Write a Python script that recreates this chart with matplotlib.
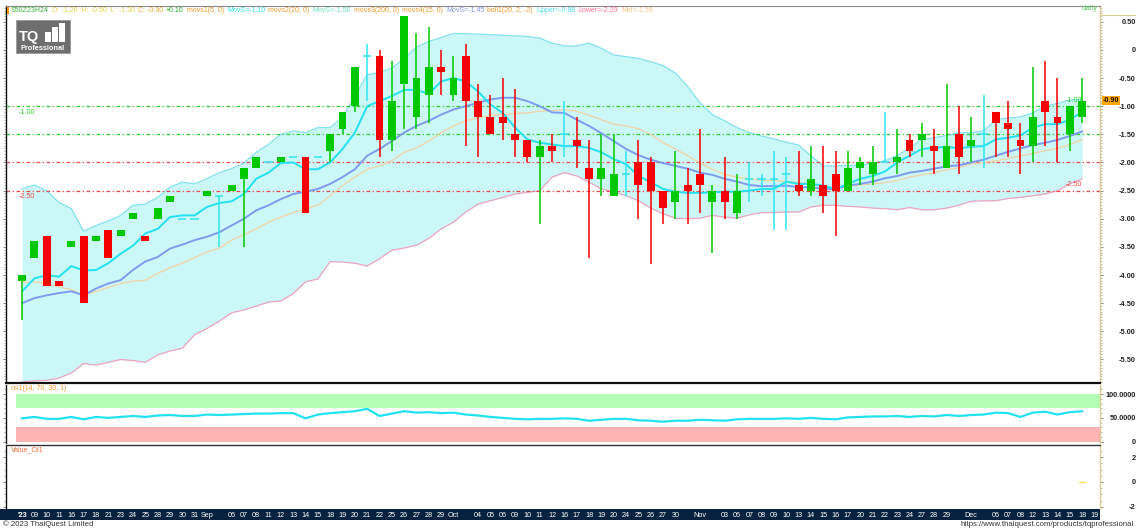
import matplotlib
matplotlib.use("Agg")
import matplotlib.pyplot as plt
import numpy as np
from matplotlib.patches import Rectangle
from matplotlib.lines import Line2D
from matplotlib.ticker import MultipleLocator
from matplotlib.transforms import blended_transform_factory

plt.rcParams['font.family'] = ['Liberation Sans', 'DejaVu Sans']

# ---------------- data ----------------
opens = [-4.1, -3.7, -3.3, -4.1, -3.5, -3.3, -3.4, -3.2, -3.3, -3.0,
         -3.3, -3.0, -2.7, -3.0, -3.0, -2.6, -2.6, -2.5, -2.3, -2.1,
         -2.0, -2.0, -1.9, -1.9, -1.9, -1.8, -1.4, -1.0, -0.1, -0.1,
         -1.6, -0.6, -1.2, -0.8, -0.3, -0.8, -0.1, -0.9, -1.2, -1.2,
         -1.5, -1.6, -1.9, -1.7, -1.5, -1.6, -2.1, -2.3, -2.6, -2.2,
         -2.0, -2.0, -2.5, -2.7, -2.4, -2.2, -2.7, -2.5, -2.9, -2.3,
         -2.3, -2.3, -2.2, -2.4, -2.5, -2.4, -2.2, -2.5, -2.1, -2.2,
         -2.0, -2.0, -1.6, -1.6, -1.7, -2.1, -1.5, -1.7, -1.5, -1.1,
         -1.3, -1.6, -1.7, -0.9, -1.2, -1.5, -1.2]
highs = [-4.0, -3.4, -3.3, -4.1, -3.4, -3.3, -3.3, -3.2, -3.2, -2.9,
         -3.3, -2.8, -2.6, -3.0, -3.0, -2.5, -2.6, -2.4, -2.1, -1.9,
         -2.0, -1.9, -1.9, -1.9, -1.9, -1.5, -1.1, -0.3, 0.1, 0.0,
         -0.2, 0.6, 0.3, 0.4, 0.0, -0.1, 0.1, -0.6, -0.8, -0.5,
         -0.7, -1.6, -1.6, -1.5, -0.9, -1.2, -1.6, -1.5, -1.5, -1.8,
         -1.6, -1.9, -2.5, -1.8, -2.1, -1.4, -2.4, -1.9, -2.2, -2.0,
         -2.2, -1.8, -1.9, -1.8, -1.7, -1.7, -1.8, -1.8, -1.9, -1.7,
         -1.1, -1.4, -1.5, -1.3, -1.4, -0.6, -1.0, -1.2, -0.8, -1.1,
         -0.9, -1.3, -0.3, -0.2, -0.5, -1.0, -0.5]
lows = [-4.8, -3.7, -4.2, -4.2, -3.5, -4.5, -3.4, -3.7, -3.3, -3.0,
        -3.4, -3.0, -2.7, -3.0, -3.0, -2.6, -3.5, -2.5, -3.5, -2.1,
        -2.0, -2.0, -1.9, -2.9, -1.9, -2.0, -1.5, -1.1, -0.9, -1.9,
        -1.8, -1.4, -1.4, -1.3, -0.8, -0.9, -1.7, -1.9, -1.5, -1.6,
        -1.9, -2.0, -3.1, -2.0, -1.9, -2.1, -3.7, -2.6, -2.6, -2.6,
        -3.0, -3.8, -3.1, -3.0, -3.1, -2.9, -3.6, -3.0, -3.0, -2.7,
        -2.6, -3.2, -3.2, -2.6, -2.6, -2.9, -3.3, -2.5, -2.4, -2.4,
        -2.0, -2.2, -1.9, -1.9, -2.2, -2.1, -2.2, -2.0, -2.1, -1.9,
        -1.9, -2.2, -2.0, -1.7, -2.0, -1.8, -1.3]
closes = [-4.0, -3.4, -4.2, -4.2, -3.4, -4.5, -3.3, -3.7, -3.2, -2.9,
          -3.4, -2.8, -2.6, -3.0, -3.0, -2.5, -2.6, -2.4, -2.1, -1.9,
          -2.0, -1.9, -1.9, -2.9, -1.9, -1.5, -1.1, -0.3, -0.1, -1.6,
          -0.9, 0.6, -0.5, -0.3, -0.4, -0.5, -0.9, -1.2, -1.5, -1.3,
          -1.6, -1.9, -1.7, -1.8, -1.5, -1.7, -2.3, -2.1, -2.2, -2.2,
          -2.4, -2.5, -2.8, -2.5, -2.5, -2.4, -2.5, -2.7, -2.5, -2.3,
          -2.3, -2.3, -2.2, -2.5, -2.3, -2.6, -2.5, -2.1, -2.0, -2.0,
          -2.0, -1.9, -1.8, -1.5, -1.8, -1.7, -1.9, -1.6, -1.5, -1.3,
          -1.4, -1.7, -1.2, -1.1, -1.3, -1.0, -0.9]

ma5 = [-4.29, -4.06, -4.0, -4.03, -3.84, -3.92, -3.91, -3.79, -3.62, -3.48,
       -3.26, -3.18, -2.97, -2.94, -2.94, -2.79, -2.72, -2.69, -2.56, -2.29,
       -2.18, -2.01, -2.0, -2.12, -2.12, -2.0, -1.76, -1.47, -1.0, -0.91,
       -0.82, -0.71, -0.71, -0.78, -0.56, -0.5, -0.56, -0.74, -0.97, -1.12,
       -1.38, -1.59, -1.65, -1.68, -1.71, -1.71, -1.74, -1.82, -1.94, -2.03,
       -2.24, -2.35, -2.47, -2.52, -2.54, -2.54, -2.53, -2.52, -2.52, -2.5,
       -2.47, -2.47, -2.34, -2.38, -2.38, -2.41, -2.47, -2.38, -2.29, -2.24,
       -2.16, -2.0, -1.88, -1.76, -1.74, -1.72, -1.75, -1.72, -1.71, -1.59,
       -1.56, -1.52, -1.38, -1.32, -1.32, -1.24, -1.10]
ma15 = [-4.5, -4.41, -4.36, -4.32, -4.29, -4.36, -4.24, -4.15, -4.09, -3.91,
        -3.76, -3.68, -3.53, -3.46, -3.38, -3.32, -3.24, -3.12, -3.0, -2.85,
        -2.76, -2.65, -2.56, -2.52, -2.47, -2.38, -2.26, -2.12, -1.88, -1.76,
        -1.62, -1.47, -1.35, -1.26, -1.15, -1.06, -1.0, -0.94, -0.88, -0.85,
        -0.85, -0.91, -1.0, -1.11, -1.12, -1.24, -1.35, -1.48, -1.62, -1.76,
        -1.87, -1.95, -2.01, -2.06, -2.11, -2.18, -2.22, -2.29, -2.34, -2.4,
        -2.42, -2.42, -2.41, -2.44, -2.44, -2.47, -2.47, -2.41, -2.38, -2.34,
        -2.28, -2.24, -2.18, -2.15, -2.11, -2.07, -2.05, -2.0, -1.95, -1.88,
        -1.81, -1.75, -1.69, -1.65, -1.6, -1.53, -1.45]
ma20_last = -1.58
boll_mid = [-4.13, -4.12, -4.15, -4.21, -4.26, -4.36, -4.29, -4.22, -4.15, -4.11,
            -4.09, -3.97, -3.87, -3.79, -3.69, -3.59, -3.52, -3.38, -3.28, -3.18,
            -3.06, -2.97, -2.89, -2.82, -2.76, -2.59, -2.41, -2.26, -2.12, -2.06,
            -1.97, -1.82, -1.74, -1.62, -1.47, -1.35, -1.26, -1.21, -1.16, -1.15,
            -1.13, -1.12, -1.09, -1.08, -1.06, -1.09, -1.16, -1.24, -1.32, -1.35,
            -1.4, -1.5, -1.65, -1.76, -1.88, -2.01, -2.12, -2.21, -2.26, -2.29,
            -2.32, -2.32, -2.34, -2.35, -2.4, -2.42, -2.44, -2.42, -2.4, -2.38,
            -2.36, -2.32, -2.26, -2.22, -2.18, -2.13, -2.09, -2.03, -2.0, -1.97,
            -1.93, -1.88, -1.84, -1.79, -1.75, -1.68, -1.59]
boll_upper = [-2.47, -2.4, -2.5, -2.71, -2.82, -3.22, -3.12, -3.04, -2.94, -2.76,
              -2.74, -2.62, -2.44, -2.35, -2.38, -2.29, -2.18, -2.11, -2.01, -1.82,
              -1.68, -1.5, -1.44, -1.47, -1.38, -1.38, -1.2, -0.82, -0.44, -0.4,
              -0.32, -0.16, 0.05, 0.15, 0.22, 0.29, 0.29, 0.28, 0.27, 0.26,
              0.25, 0.24, 0.21, 0.12, 0.07, 0.07, 0.12, 0.03, -0.09, -0.12,
              -0.15, -0.21, -0.28, -0.41, -0.65, -0.94, -1.15, -1.26, -1.38, -1.47,
              -1.53, -1.58, -1.64, -1.69, -1.88, -2.06, -2.06, -2.05, -2.05, -2.01,
              -1.97, -1.88, -1.74, -1.59, -1.56, -1.52, -1.47, -1.47, -1.44, -1.24,
              -1.21, -1.19, -1.12, -1.0, -0.95, -0.89, -0.88]
boll_lower = [-5.9, -5.88, -5.87, -5.83, -5.74, -5.57, -5.6, -5.55, -5.5, -5.52,
              -5.55, -5.42, -5.35, -5.3, -5.06, -4.95, -4.82, -4.67, -4.62, -4.55,
              -4.48, -4.46, -4.33, -4.12, -4.07, -3.76, -3.77, -3.79, -3.84, -3.71,
              -3.56, -3.52, -3.47, -3.35, -3.18, -3.06, -2.88, -2.74, -2.68, -2.62,
              -2.56, -2.53, -2.5, -2.26, -2.18, -2.24, -2.35, -2.47, -2.52, -2.59,
              -2.68, -2.81, -2.91, -2.99, -3.0, -2.99, -2.94, -2.97, -2.99, -2.93,
              -2.89, -2.89, -2.88, -2.88, -2.79, -2.76, -2.76, -2.78, -2.79, -2.81,
              -2.82, -2.84, -2.8, -2.84, -2.84, -2.81, -2.76, -2.69, -2.68, -2.68,
              -2.64, -2.62, -2.59, -2.56, -2.5, -2.38, -2.29]
rsi = [49, 52, 48, 48, 52, 47, 52, 50, 52, 54,
       52, 55, 56, 54, 54, 57, 56, 57, 58, 59,
       59, 60, 60, 49, 57, 60, 62, 64, 69, 54,
       59, 64, 61, 62, 60, 61, 57, 55, 52, 50,
       48, 47, 48, 48, 49, 48, 44, 46, 48, 48,
       45, 44, 42, 44, 44, 46, 45, 44, 47, 48,
       48, 48, 49, 48, 50, 48, 47, 51, 52, 53,
       53, 54, 52, 54, 53, 56, 54, 56, 57, 61,
       60, 52, 61, 63, 57, 62, 63.8607]
openint_last = 0.0

date_labels = ["'23", "09", "10", "11", "16", "17", "18", "21", "23", "24",
               "25", "28", "29", "30", "31", "Sep", "", "06", "07", "08",
               "11", "12", "13", "14", "15", "18", "19", "20", "21", "22",
               "25", "26", "27", "28", "29", "Oct", "", "04", "05", "06",
               "09", "10", "11", "12", "16", "17", "18", "19", "20", "24",
               "25", "26", "27", "30", "", "Nov", "", "03", "06", "07",
               "08", "09", "10", "13", "14", "15", "16", "17", "20", "21",
               "22", "23", "24", "27", "28", "29", "", "Dec", "", "06",
               "07", "08", "12", "13", "14", "15", "18", "19"]

level_values = [-1.0, -1.5, -2.0, -2.5]
level_colors = ['#2ECC2E', '#2ECC2E', '#E84848', '#E84848']
labelled_levels = [-1.0, -2.5]

price_ticks = [0.5, 0.0, -0.5, -1.0, -1.5, -2.0, -2.5, -3.0, -3.5, -4.0, -4.5, -5.0, -5.5]
rsi_ticks = [100, 50, 0]
rsi_zones = [(70, 100, '#B3FFB3'), (0, 30, '#FFB3B3')]
oi_ticks = [2, 0, -2]

# ---------------- layout helpers ----------------
W, H = 1136, 528
fig = plt.figure(figsize=(W / 100, H / 100), dpi=100)
fig.patch.set_facecolor('white')


def fx(px):
    return px / W


def fy(py):
    return 1 - py / H


def axes_px(x0, y0, x1, y1):
    return fig.add_axes([fx(x0), fy(y1), (x1 - x0) / W, (y1 - y0) / H])


GREEN = '#00C800'
RED = '#F40000'
CYAN = '#2EE6F2'
TAN = '#DCCB8E'
XL = (-1.3, 87.45)
LBL_X = 1133

n = len(closes)
idx = np.arange(n)
o = np.array(opens); c = np.array(closes); h = np.array(highs); l = np.array(lows)


def style_panel(a, ticks, labels, minor):
    a.set_xlim(*XL)
    a.set_xticks([])
    a.yaxis.tick_right()
    a.set_yticks(ticks)
    a.set_yticklabels(labels)
    a.yaxis.set_minor_locator(MultipleLocator(minor))
    pad_pt = (LBL_X - 1100) * 72 / 100
    a.tick_params(axis='y', which='major', length=2, width=0.6, color='#777',
                  pad=pad_pt, labelsize=5.3, labelcolor='#222')
    a.tick_params(axis='y', which='minor', length=1.5, width=0.5, color='#999')
    a.tick_params(axis='y', which='both', left=True)
    for t in a.get_yticklabels():
        t.set_ha('right')
        t.set_fontweight('bold')
    a.spines['left'].set_color('#111')
    a.spines['left'].set_linewidth(1.0)
    a.spines['right'].set_color(TAN)
    a.spines['right'].set_linewidth(1.0)
    a.spines['top'].set_visible(False)
    a.spines['bottom'].set_visible(False)


# ---------------- main price panel ----------------
ax = axes_px(6, 6, 1100, 382)
ax.set_ylim(-5.9, 0.78)
style_panel(ax, price_ticks, ['0' if v == 0 else f'{v:.2f}' for v in price_ticks], 0.05)

ax.fill_between(idx, boll_lower, boll_upper, color='#CCF7F7', lw=0, zorder=1)
ax.plot(idx, boll_upper, color='#80E2EE', lw=0.9, zorder=2)
ax.plot(idx, boll_lower, color='#EFA3C2', lw=0.9, zorder=2)

for lv, lc in zip(level_values, level_colors):
    ax.axhline(lv, color=lc, lw=0.9, dashes=(3, 2, 1, 2), zorder=2.5)
for lv in labelled_levels:
    lc = level_colors[level_values.index(lv)]
    ax.text(idx[0] - 0.3, lv - 0.05, f'{lv:.2f}', color=lc, fontsize=5.2,
            ha='left', va='top', zorder=6)
    ax.text(idx[-1], lv + 0.04, f'{lv:.2f}', color=lc, fontsize=5.2,
            ha='right', va='bottom', zorder=3)

ax.plot(idx, boll_mid, color='#F0D3A2', lw=0.9, zorder=3)
ax.plot(idx, ma15, color='#7E9BF0', lw=1.4, zorder=3)
ax.plot(idx, ma5, color='#22E2F2', lw=1.4, zorder=3)

doji = np.isclose(o, c)
cols = np.where(c > o + 1e-9, GREEN, np.where(c < o - 1e-9, RED, CYAN))
ax.vlines(idx, l, h, colors=cols, lw=1.1, zorder=4)
nb = ~doji
ax.bar(idx[nb], np.abs(c - o)[nb], bottom=np.minimum(o, c)[nb], width=0.64,
       color=cols[nb], lw=0, zorder=5)
ax.hlines(o[doji], idx[doji] - 0.34, idx[doji] + 0.34, colors=CYAN, lw=1.1, zorder=5)

# last price marker on the axis
bt = blended_transform_factory(ax.transAxes, ax.transData)
ax.text(1.0025, c[-1], f'{c[-1]:.2f}', transform=bt, fontsize=5.2, fontweight='bold',
        color='#111', ha='left', va='center', clip_on=False, zorder=10,
        bbox=dict(boxstyle='square,pad=0.12', fc='#FFA500', ec='none'))

# header line (multicoloured)
hdr = [("S50Z23H24", '#35B535'),
       (f"O: {o[-1]:.2f}  H: {h[-1]:.2f}  L: {l[-1]:.2f}", '#E8D040'),
       (f"C: {c[-1]:.2f}", '#F0A828'),
       (f"+{c[-1] - c[-2]:.2f}", '#22AA22'),
       ("movs1(5, 0)", '#F39A2C'), (f"MovS={ma5[-1]:.2f}", '#30DDF0'),
       ("movs2(20, 0)", '#F39A2C'), (f"MovS={ma20_last:.2f}", '#6EE2B8'),
       ("movs3(200, 0)", '#F39A2C'),
       ("movs4(15, 0)", '#F39A2C'), (f"MovS={ma15[-1]:.2f}", '#8397F0'),
       ("boll1(20, 2, -2)", '#F39A2C'), (f"Upper={boll_upper[-1]:.2f}", '#4FDDEE'),
       (f"Lower={boll_lower[-1]:.2f}", '#FF6F90'), (f"Mid={boll_mid[-1]:.2f}", '#F5C68A')]


def chain_text(parts, x0, y0, size):
    t = fig.text(fx(x0), fy(y0), parts[0][0], color=parts[0][1], fontsize=size,
                 ha='left', va='center')
    for s, col in parts[1:]:
        t = ax.annotate(s, xy=(1, 0.5), xycoords=t, xytext=(2.2, 0),
                        textcoords='offset points', color=col, fontsize=size,
                        ha='left', va='center', annotation_clip=False)
    return t


chain_text(hdr, 11, 11, 5.0)
fig.add_artist(Rectangle((fx(7), fy(14)), 2 / W, 7 / H, transform=fig.transFigure,
                         fc='#FF9900', ec='none'))
fig.text(fx(1090), fy(9), 'daily', color='#5CC85C', fontsize=5.5, ha='center', va='center')

# logo
fig.add_artist(Rectangle((fx(16), fy(53)), 54 / W, 33 / H, transform=fig.transFigure,
                         fc='#6E6E6E', ec='#9A9A9A', lw=0.6))
fig.text(fx(18.5), fy(37.5), 'TQ', color='white', fontsize=10.5, fontweight='bold',
         ha='left', va='center')
for bx, btop in [(45, 32), (52, 27), (59, 23)]:
    fig.add_artist(Rectangle((fx(bx), fy(42)), 5.5 / W, (42 - btop) / H,
                             transform=fig.transFigure, fc='white', ec='none'))
fig.text(fx(43), fy(48.5), 'Professional', color='white', fontsize=5.3,
         fontweight='bold', ha='center', va='center')

# ---------------- RSI panel ----------------
ar = axes_px(6, 385, 1100, 443)
ar.set_ylim(-2.7, 119)
style_panel(ar, rsi_ticks, [f'{v:.4f}' if v else '0' for v in rsi_ticks], 10)
for lo_, hi_, zc in rsi_zones:
    ar.fill_between([idx[0] - 0.5, XL[1]], lo_, hi_, color=zc, lw=0, zorder=1)
ar.plot(idx, rsi, color='#22E2F2', lw=1.6, zorder=3)
chain_text([("rsi1(14, 70, 30, 1)", '#F39A2C'), (f"RSI={rsi[-1]:.4f}", '#30DDF0')],
           11, 388.5, 5.0)

# ---------------- Open-interest panel ----------------
av = axes_px(6, 446, 1100, 508)
av.set_ylim(-2.1, 2.9)
style_panel(av, oi_ticks, [str(v) for v in oi_ticks], 0.5)
av.plot([idx[-1] - 0.25, idx[-1] + 0.25], [openint_last, openint_last], color='#F2E45A', lw=1.0)
chain_text([("Value_OI1", '#E8703A'), (f"OpenInt:{openint_last:.0f}", '#EED35A')],
           11, 449.5, 5.0)

# separators
fig.add_artist(Line2D([fx(6), fx(1100)], [fy(383), fy(383)], color='#111', lw=1.6))
fig.add_artist(Line2D([fx(6), fx(1100)], [fy(444.5), fy(444.5)], color='#333', lw=1.0))
fig.add_artist(Line2D([fx(6), fx(1100)], [fy(6), fy(6)], color='#888', lw=0.8))
fig.add_artist(Line2D([fx(1100), fx(1136)], [fy(15), fy(15)], color=TAN, lw=0.8))

# ---------------- date bar ----------------
upp = (XL[1] - XL[0]) / 1094.0
ab = axes_px(0, 509, 1100, 520)
ab.set_xlim(XL[0] - 6 * upp, XL[1])
ab.set_ylim(0, 1)
ab.set_facecolor('#06223E')
ab.set_xticks([]); ab.set_yticks([])
for s in ab.spines.values():
    s.set_visible(False)
for i, lab in enumerate(date_labels):
    if lab:
        ab.text(i, 0.45, lab, color='white', fontsize=5.2, ha='center', va='center',
                fontweight='bold' if i == 0 else 'normal')

fig.text(fx(3), fy(524.5), '© 2023 ThaiQuest Limited', color='#333', fontsize=5.6,
         ha='left', va='center')
fig.text(fx(1134), fy(524.5), 'https://www.thaiquest.com/products/tqprofessional',
         color='#333', fontsize=5.6, ha='right', va='center')

fig.savefig('out.png', dpi=100, facecolor='white')
